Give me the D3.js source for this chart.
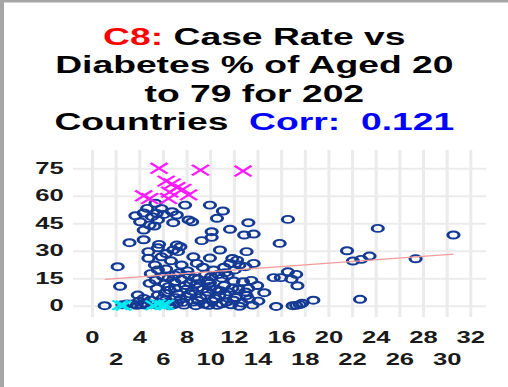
<!DOCTYPE html>
<html>
<head>
<meta charset="utf-8">
<script src="https://cdn.jsdelivr.net/npm/d3@7"></script>
<style>
  html, body { margin: 0; padding: 0; background: #fff; }
  svg { display: block; }
</style>
</head>
<body>
<svg id="chart" width="508" height="387"></svg>
<script>
// Diabetes prevalence (% of population aged 20-79) vs COVID case rate
const circleX = [3.7,4.1,4.4,4.7,5.4,5.5,5.6,4.9,5.1,6.8,7.2,6.9,7.9,8.2,8.5,5.9,10.0,11.1,10.6,10.15,11.7,13.25,16.6,24.2,4.4,6.1,5.3,
  3.2,4.4,10.15,9.3,12.9,13.7,15.9,30.6,10.85,7.2,7.3,6.9,5.6,4.8,7.5,13.1,21.6,5.7,6.3,
  4.8,5.9,5.35,5.6,8.6,8.9,7.6,11.7,12.3,12.5,13.7,2.2,11.9,13.0,11.2,22.1,22.8,23.5,27.4,6.3,7.4,8.1,9.4,10.3,11.3,12.1,16.6,17.3,6.7,10.0,
  6.05,5.4,6.5,7.05,8.2,9.6,10.1,11.0,12.0,12.8,15.4,16.0,16.9,17.4,2.4,4.9,5.5,6.5,7.05,7.9,8.3,9.0,9.0,10.0,10.5,11.2,12.4,13.25,14.0,7.0,11.5,13.5,8.7,
  1.1,3.9,3.5,3.8,4.2,4.5,4.0,5.6,6.2,6.5,6.9,7.2,7.5,7.8,8.0,8.5,8.6,8.8,9.2,9.5,9.8,10.2,10.6,10.8,11.4,11.6,11.8,12.2,12.7,13.0,13.3,13.6,14.6,13.1,12.5,15.6,17.0,17.3,17.6,17.8,18.75,22.7,
  6.0,5.0,5.8,6.6,7.3,4.6,5.2,3.0,9.0,9.9,10.4,11.0,11.3,12.0,8.3,7.1,10.9,9.4,8.0,6.6,14.1,2.6,4.4,7.7,9.7,11.9,10.0,
  8.9,6.2,9.8,7.6,5.0,10.7];
const circleY = [49.1,45.8,41.3,53.1,55.9,50.4,46.8,44.0,48.6,51.3,49.5,45.3,54.9,46.8,45.8,53.0,54.9,51.7,47.7,40.4,41.7,45.3,47.1,42.2,50.6,49.8,43.5,
  34.4,36.0,37.3,35.5,38.6,39.1,34.0,38.6,30.4,33.1,29.5,30.4,31.6,29.5,32.2,29.5,30.0,33.5,28.5,
  25.9,26.7,22.2,19.5,26.7,23.1,22.2,23.1,24.9,22.2,23.1,21.3,25.8,21.3,21.0,24.4,25.3,27.1,25.6,20.0,18.0,19.0,21.0,19.5,18.0,19.5,18.5,17.1,24.5,26.0,
  15.8,14.0,15.0,16.7,16.7,17.1,15.8,15.0,13.5,13.1,15.3,15.3,14.5,10.9,10.6,12.2,9.5,10.4,9.5,11.0,12.5,14.5,10.0,12.5,9.0,11.0,9.0,9.5,11.0,12.8,16.5,13.8,15.2,
  0.0,5.8,1.0,0.2,0.5,1.5,2.5,5.8,6.8,2.0,0.5,1.5,3.5,0.3,5.0,8.0,2.0,0.0,4.5,0.8,7.5,2.5,0.2,5.5,2.0,7.5,0.5,4.5,1.5,7.5,3.5,0.3,7.1,5.5,-0.3,-0.4,0.0,0.2,0.6,1.3,3.0,3.5,
  4.0,3.0,1.2,8.5,6.5,0.3,0.8,1.0,2.8,0.2,4.0,1.0,6.0,3.0,6.5,4.3,8.2,9.0,9.0,0.0,2.5,0.5,4.0,1.8,5.5,9.5,10.5,
  12.0,12.0,13.5,14.3,17.5,17.0];

// Countries with the highest case rates
const highX = [5.7,9.2,12.8,6.3,6.8,7.2,7.7,6.6,8.2,4.4,4.9,6.5];
const highY = [75.0,74.0,73.5,68.0,66.5,64.5,63.5,62.0,60.5,60.0,58.5,58.5];

// Countries with the lowest case rates
const lowX = [2.4,2.7,5.2,5.6,6.0,6.3];
const lowY = [0.3,0.1,0.2,0.8,0.3,0.5];

// Least-squares fit line end points
const trendX = [1.1, 30.6];
const trendY = [14.4, 28.2];

const xTicks = [0,2,4,6,8,10,12,14,16,18,20,22,24,26,28,30,32];
const yTicks = [0,15,30,45,60,75];

const titleLines = [
  [{t: "C8:", c: "#ff0000"}, {t: " Case Rate vs", c: "#000000"}],
  [{t: "Diabetes % of Aged 20", c: "#000000"}],
  [{t: "to 79 for 202", c: "#000000"}],
  [{t: "Countries", c: "#000000"}, {t: "  Corr:  0.121", c: "#0000ff"}]
];

// The whole drawing is laid out narrow and widened horizontally
const SX = 1.6;
const W = 508, H = 387;
const innerW = W / SX;

const panel = {left: 45.6, right: 303.8, top: 150, bottom: 317};

const x = d3.scaleLinear().domain([0, 32]).range([57.3, 293.75]);
const y = d3.scaleLinear().domain([0, 75]).range([305.7, 168.3]);

const svg = d3.select("#chart");
svg.append("rect").attr("width", W).attr("height", H).attr("fill", "#fff");

const g = svg.append("g").attr("transform", `scale(${SX},1)`);

const font = "'Liberation Sans', Arial, sans-serif";

// Title
const title = g.append("text")
  .attr("x", innerW / 2 + 0.2)
  .attr("text-anchor", "middle")
  .attr("font-family", font)
  .attr("font-weight", "bold")
  .attr("font-size", 23.3)
  .style("white-space", "pre");
titleLines.forEach((line, i) => {
  line.forEach((part, j) => {
    const ts = title.append("tspan").attr("fill", part.c).text(part.t);
    if (j === 0) ts.attr("x", innerW / 2 + 0.2).attr("y", 45 + i * 28.4);
  });
});

// Panel grid
const gridX = g.append("g")
  .attr("transform", `translate(0,${panel.bottom})`)
  .call(d3.axisBottom(x).tickValues(xTicks).tickSize(-(panel.bottom - panel.top)).tickFormat(""));
gridX.select(".domain").remove();
gridX.selectAll("line").attr("stroke", "#ebebeb").attr("stroke-width", 1.9);

const gridY = g.append("g")
  .attr("transform", `translate(${panel.left},0)`)
  .call(d3.axisLeft(y).tickValues(yTicks).tickSize(-(panel.right - panel.left)).tickFormat(""));
gridY.select(".domain").remove();
gridY.selectAll("line").attr("stroke", "#ebebeb").attr("stroke-width", 1.9);

// Axis labels
const axX = g.append("g")
  .attr("transform", `translate(0,${panel.bottom})`)
  .call(d3.axisBottom(x).tickValues(xTicks).tickSize(0).tickFormat(d3.format("d")));
axX.select(".domain").remove();
axX.selectAll("text")
  .attr("font-family", font).attr("font-weight", "bold").attr("font-size", 16)
  .attr("fill", "#1a1a1a")
  .attr("y", (d, i) => i % 2 === 0 ? 15 : 36.3);

const axY = g.append("g")
  .attr("transform", `translate(${panel.left},0)`)
  .call(d3.axisLeft(y).tickValues(yTicks).tickSize(0).tickPadding(5.8).tickFormat(d3.format("d")));
axY.select(".domain").remove();
axY.selectAll("text")
  .attr("font-family", font).attr("font-weight", "bold").attr("font-size", 16)
  .attr("fill", "#1a1a1a");

// Points
const pts = circleX.map((d, i) => ({x: d, y: circleY[i]}));
g.append("g").selectAll("circle").data(pts).join("circle")
  .attr("cx", d => x(d.x)).attr("cy", d => y(d.y)).attr("r", 3.5)
  .attr("fill", "none").attr("stroke", "#143a94").attr("stroke-width", 1.9);

// Fit line
const line = d3.line().x(d => x(d[0])).y(d => y(d[1]));
g.append("path")
  .datum(trendX.map((d, i) => [d, trendY[i]]))
  .attr("d", line)
  .attr("fill", "none").attr("stroke", "#f59a9a").attr("stroke-width", 1.2);

function cross(sel, data, size, color, sw) {
  sel.append("g").selectAll("path").data(data).join("path")
    .attr("d", d => {
      const cx = x(d.x), cy = y(d.y);
      return `M${cx - size},${cy - size}L${cx + size},${cy + size}M${cx - size},${cy + size}L${cx + size},${cy - size}`;
    })
    .attr("fill", "none").attr("stroke", color).attr("stroke-width", sw);
}
cross(g, lowX.map((d, i) => ({x: d, y: lowY[i]})), 4.8, "#00e8f0", 1.9);
cross(g, highX.map((d, i) => ({x: d, y: highY[i]})), 5.3, "#ff1aff", 1.9);

// Frame edges
svg.append("rect").attr("x", 0).attr("y", 0).attr("width", W).attr("height", 2.5).attr("fill", "#a6a6a6");
svg.append("rect").attr("x", 0).attr("y", 0).attr("width", 4).attr("height", H).attr("fill", "#a6a6a6");
</script>
</body>
</html>
